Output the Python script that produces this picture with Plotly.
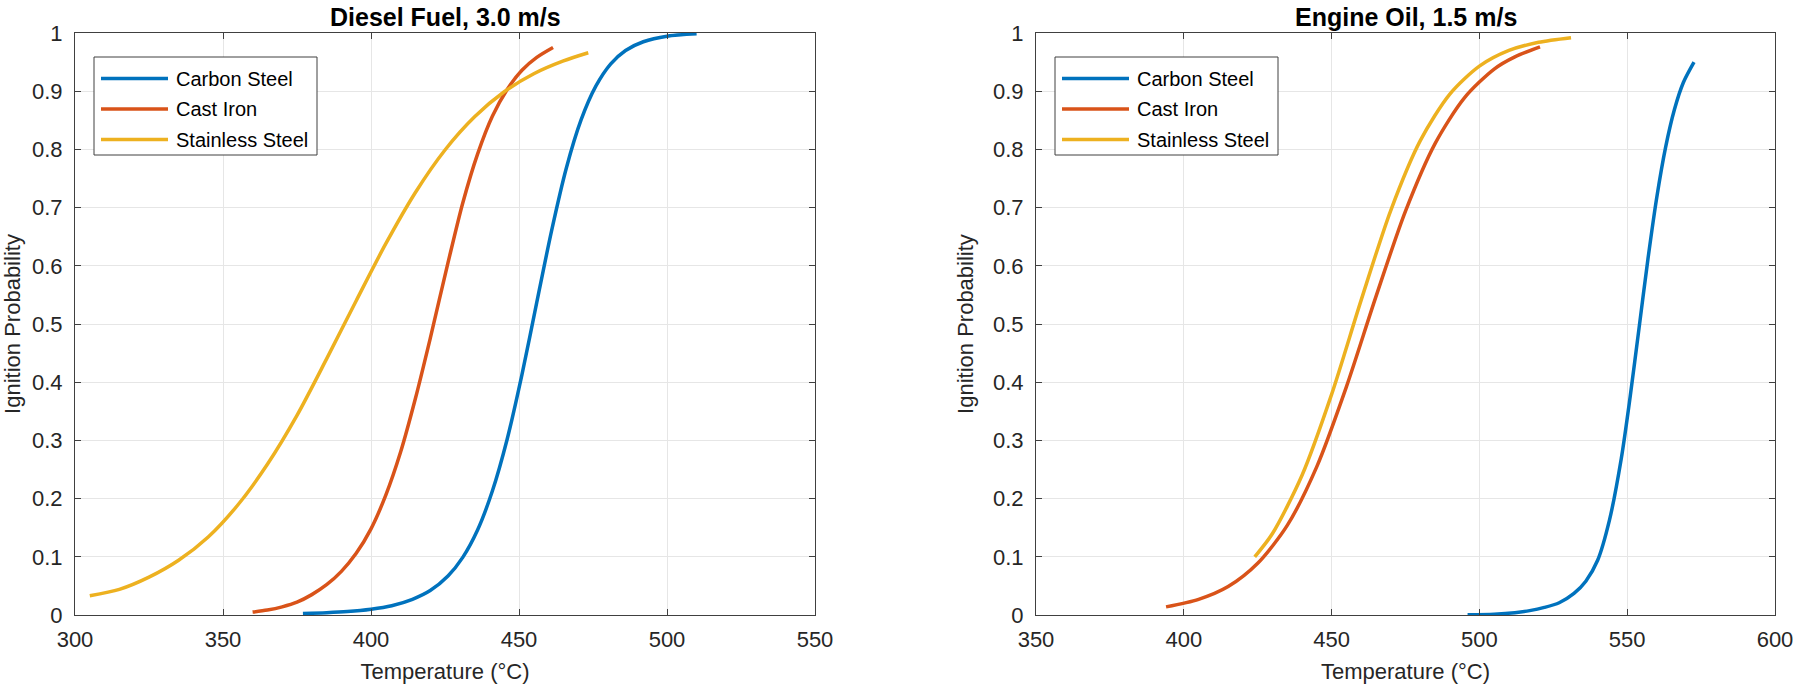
import plotly.graph_objects as go

# ---- data ----
materials = ['Carbon Steel', 'Cast Iron', 'Stainless Steel']
line_colors = ['#0072BD', '#D95319', '#EDB120']
panel_titles = ['Diesel Fuel, 3.0 m/s', 'Engine Oil, 1.5 m/s']
x_ranges = [[300, 550], [350, 600]]

# Diesel Fuel, 3.0 m/s
diesel_cs_t = [377, 385, 392, 400, 407, 414, 420, 426, 431, 436, 441, 446, 451, 456, 461, 466, 471, 476, 481, 486, 492, 500, 510]
diesel_cs_p = [0.0025, 0.0039, 0.0059, 0.01, 0.016, 0.027, 0.042, 0.067, 0.099, 0.146, 0.213, 0.302, 0.413, 0.537, 0.66, 0.768, 0.851, 0.909, 0.947, 0.97, 0.985, 0.9945, 0.9985]
diesel_ci_t = [360, 365, 370, 375, 380, 385, 390, 395, 400, 405, 410, 415, 420, 426, 431, 436, 441, 446, 451, 456, 461.5]
diesel_ci_p = [0.005, 0.0085, 0.014, 0.022, 0.035, 0.052, 0.075, 0.106, 0.148, 0.206, 0.28, 0.372, 0.475, 0.605, 0.708, 0.792, 0.857, 0.903, 0.936, 0.958, 0.975]
diesel_ss_t = [305, 315, 325, 335, 345, 355, 365, 375, 385, 395, 405, 415, 425, 435, 445, 455, 465, 473.4]
diesel_ss_p = [0.033, 0.044, 0.065, 0.094, 0.134, 0.189, 0.259, 0.343, 0.44, 0.54, 0.638, 0.726, 0.799, 0.856, 0.899, 0.93, 0.952, 0.966]

# Engine Oil, 1.5 m/s
oil_cs_t = [496, 505, 512, 517, 522, 527, 532, 536, 540, 544, 548, 551, 554, 557, 560, 563, 566, 569, 572.6]
oil_cs_p = [0.0005, 0.0015, 0.004, 0.0075, 0.013, 0.021, 0.037, 0.058, 0.094, 0.163, 0.269, 0.375, 0.4925, 0.611, 0.7175, 0.804, 0.869, 0.915, 0.95]
oil_ci_t = [394, 405, 415, 425, 435, 445, 455, 465, 475, 485, 495, 505, 512, 520.5]
oil_ci_p = [0.014, 0.027, 0.049, 0.089, 0.154, 0.255, 0.392, 0.547, 0.694, 0.81, 0.889, 0.938, 0.959, 0.976]
oil_ss_t = [424, 430, 440, 450, 460, 470, 480, 490, 500, 510, 520, 531]
oil_ss_p = [0.10, 0.14, 0.24, 0.379, 0.541, 0.695, 0.815, 0.895, 0.943, 0.97, 0.984, 0.992]

panels = [
    [(diesel_cs_t, diesel_cs_p), (diesel_ci_t, diesel_ci_p), (diesel_ss_t, diesel_ss_p)],
    [(oil_cs_t, oil_cs_p), (oil_ci_t, oil_ci_p), (oil_ss_t, oil_ss_p)],
]

# ---- layout geometry (pixels of the 1800x694 page) ----
W, H = 1800, 694
plot_x = [(75, 815), (1036, 1775)]
plot_top, plot_bottom = 33, 615
FONT = 'Liberation Sans, Arial, Helvetica, sans-serif'
AX = '#404040'

def fx(px): return px / W
def fy(py): return 1 - py / H

fig = go.Figure()
shapes, annotations = [], []

for i, series in enumerate(panels):
    xa = 'x' if i == 0 else 'x2'
    ya = 'y' if i == 0 else 'y2'
    for name, color, (t, p) in zip(materials, line_colors, series):
        fig.add_trace(go.Scatter(x=t, y=p, mode='lines', name=name, xaxis=xa, yaxis=ya,
                                 line=dict(color=color, width=3.5, shape='spline', smoothing=0.8),
                                 showlegend=False))
    left, right = plot_x[i]
    axis_common = dict(showgrid=True, gridcolor='#e6e6e6', gridwidth=1, zeroline=False,
                       showline=True, linecolor=AX, linewidth=1, mirror='allticks',
                       ticks='inside', ticklen=6, tickcolor=AX, tickwidth=1,
                       tickfont=dict(family=FONT, size=22, color='#262626'), automargin=False)
    fig.update_layout(**{
        ('xaxis' if i == 0 else 'xaxis2'): dict(
            domain=[fx(left), fx(right)], range=x_ranges[i], dtick=50, anchor=ya,
            title=dict(text='Temperature (°C)', font=dict(family=FONT, size=22, color='#262626'), standoff=12),
            ticklabelstandoff=5, **axis_common),
        ('yaxis' if i == 0 else 'yaxis2'): dict(
            domain=[fy(plot_bottom), fy(plot_top)], range=[0, 1], dtick=0.1, anchor=xa,
            title=dict(text='Ignition Probability', font=dict(family=FONT, size=22, color='#262626'), standoff=13),
            ticklabelstandoff=7, **axis_common),
    })
    # panel title
    annotations.append(dict(text='<b>' + panel_titles[i] + '</b>', x=fx((left + right) / 2), y=fy(17),
                            xref='paper', yref='paper', showarrow=False, xanchor='center', yanchor='middle',
                            font=dict(family=FONT, size=25, color='black')))
    # legend box, drawn like the MATLAB one
    bx, by, bw, bh = left + 19, 57, 223, 98
    shapes.append(dict(type='rect', xref='paper', yref='paper', x0=fx(bx), x1=fx(bx + bw),
                       y0=fy(by + bh), y1=fy(by), line=dict(color=AX, width=1), fillcolor='white', layer='above'))
    for k, (name, color) in enumerate(zip(materials, line_colors)):
        ry = by + 21.5 + k * 30.5
        shapes.append(dict(type='line', xref='paper', yref='paper', x0=fx(bx + 7), x1=fx(bx + 74),
                           y0=fy(ry), y1=fy(ry), line=dict(color=color, width=3.5), layer='above'))
        annotations.append(dict(text=name, x=fx(bx + 80), y=fy(ry), xref='paper', yref='paper',
                                showarrow=False, xanchor='left', yanchor='middle',
                                font=dict(family=FONT, size=20, color='black')))

fig.update_layout(width=W, height=H, margin=dict(l=0, r=0, t=0, b=0),
                  plot_bgcolor='white', paper_bgcolor='white',
                  shapes=shapes, annotations=annotations, showlegend=False)

# drop the default page margin so the figure sits at the window origin
fig.write_html('out.html', config={'displayModeBar': False},
               post_script="document.body.style.margin='0px';")
